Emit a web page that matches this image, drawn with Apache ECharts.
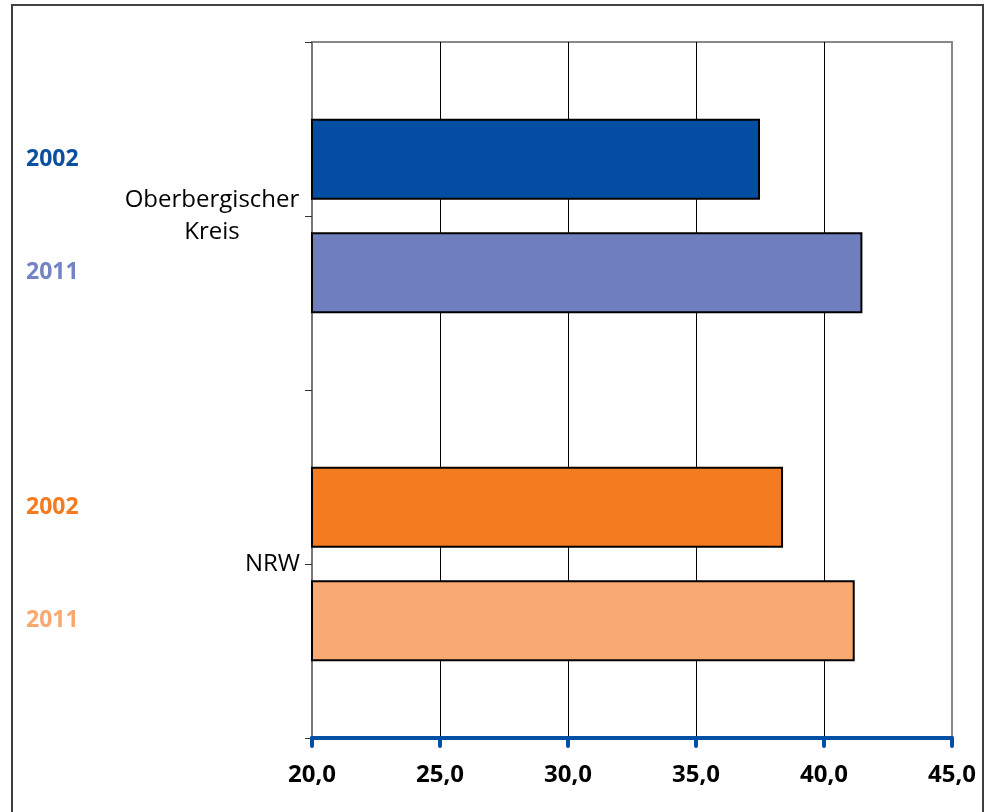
<!DOCTYPE html>
<html>
<head>
<meta charset="utf-8">
<script src="https://cdn.jsdelivr.net/npm/echarts@6/dist/echarts.min.js"></script>
<style>
  html, body { margin: 0; padding: 0; background: #fff; }
  #chart { width: 986px; height: 812px; position: absolute; left: 0; top: 0; }
  #frame { position: absolute; left: 11px; top: 4px; width: 973px; height: 820px;
           border: 2px solid #404040; pointer-events: none; box-sizing: border-box; }
</style>
</head>
<body>
<div id="chart"></div>
<div id="frame"></div>
<script>
const categories = ['Oberbergischer Kreis', 'NRW'];
const seriesNames = ['2002', '2011'];
const values2002 = [37.5, 38.4];
const values2011 = [41.5, 41.2];
const xTicks = [20, 25, 30, 35, 40, 45];

const colors2002 = ['#034EA2', '#F47B20'];
const colors2011 = ['#6F7FBD', '#F9AA72'];
const labelColors2002 = ['#0B50A0', '#F47B20'];
const labelColors2011 = ['#7383C3', '#F9A870'];

const font = '"Open Sans", "DejaVu Sans", sans-serif';

function makeData(vals, fills, lcols) {
  return vals.map((v, i) => ({
    value: v,
    itemStyle: { color: fills[i] },
    label: { color: lcols[i] }
  }));
}

function barSeries(name, data) {
  return {
    name: name,
    type: 'bar',
    yAxisIndex: 0,
    barWidth: 81,
    barGap: '40%',
    data: data,
    itemStyle: { borderColor: '#000', borderWidth: 2 },
    label: {
      show: true,
      formatter: '{a}',
      position: [-285, '50%'],
      align: 'left',
      verticalAlign: 'middle',
      fontFamily: font,
      fontWeight: 'bold',
      fontSize: 23
    },
    emphasis: { disabled: true },
    animation: false
  };
}

const chart = echarts.init(document.getElementById('chart'));
chart.setOption({
  backgroundColor: '#fff',
  animation: false,
  grid: {
    left: 312, right: 34, top: 42, bottom: 74,
    show: true, borderColor: '#888', borderWidth: 2, backgroundColor: 'transparent'
  },
  xAxis: {
    type: 'value',
    min: xTicks[0],
    max: xTicks[xTicks.length - 1],
    interval: xTicks[1] - xTicks[0],
    axisLine: { show: true, lineStyle: { color: '#0450A4', width: 4 } },
    axisTick: { show: true, length: 8, lineStyle: { color: '#0450A4', width: 4, cap: 'round' } },
    splitLine: { show: true, lineStyle: { color: ['#888', '#000', '#000', '#000', '#000', '#888'], width: 1 } },
    axisLabel: {
      formatter: v => v.toFixed(1).replace('.', ','),
      color: '#000', fontFamily: font, fontWeight: 'bold', fontSize: 24, margin: 25
    }
  },
  yAxis: [
    {
      type: 'category',
      data: categories,
      inverse: true,
      axisLine: { show: true, lineStyle: { color: '#777', width: 2 } },
      axisTick: { show: true, length: 7, alignWithLabel: false, lineStyle: { color: '#333', width: 1 } },
      axisLabel: {
        color: '#000', fontFamily: font, fontSize: 24, margin: 12, lineHeight: 32,
        formatter: v => v.indexOf(' ') > 0 ? '{c|' + v.split(' ').join('}\n{c|') + '}' : '{n|' + v + '}',
        rich: {
          c: { width: 176, align: 'center', fontFamily: font, fontSize: 24, lineHeight: 32, color: '#000' },
          n: { fontFamily: font, fontSize: 24, lineHeight: 32, color: '#000' }
        }
      }
    },
    {
      type: 'category',
      data: categories,
      inverse: true,
      position: 'left',
      axisLine: { show: false },
      axisTick: { show: true, length: 7, alignWithLabel: true, lineStyle: { color: '#333', width: 1 } },
      axisLabel: { show: false }
    }
  ],
  series: [
    barSeries(seriesNames[0], makeData(values2002, colors2002, labelColors2002)),
    barSeries(seriesNames[1], makeData(values2011, colors2011, labelColors2011))
  ]
});
</script>
</body>
</html>
